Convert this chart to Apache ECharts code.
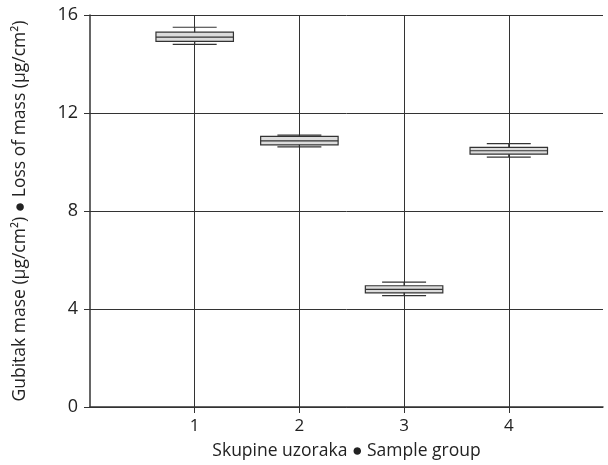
<!DOCTYPE html>
<html><head><meta charset="utf-8">
<script src="https://cdn.jsdelivr.net/npm/echarts@6/dist/echarts.min.js"></script>
<style>html,body{margin:0;padding:0;background:#fff}#c{width:608px;height:465px}</style>
</head><body><div id="c"></div>
<script>
const groups = [1, 2, 3, 4];
const whiskerLow = [14.8, 10.62, 4.55, 10.2];
const q1 = [14.92, 10.7, 4.66, 10.32];
const median = [15.1, 10.86, 4.8, 10.46];
const q3 = [15.3, 11.05, 4.95, 10.6];
const whiskerHigh = [15.5, 11.1, 5.1, 10.75];
const yTicks = [0, 4, 8, 12, 16];

const data = groups.map((g, i) => [g, whiskerLow[i], q1[i], median[i], q3[i], whiskerHigh[i]]);
const chart = echarts.init(document.getElementById('c'));
const dark = '#333';
chart.setOption({
  animation: false,
  grid: {left: 90, right: 5, top: 15, bottom: 58},
  xAxis: {
    type: 'value', min: 0, max: 4.9, interval: 1,
    name: 'Skupine uzoraka \u25cf Sample group', nameLocation: 'middle', nameGap: 35,
    nameTextStyle: {fontFamily: 'Open Sans', fontSize: 17.5, color: '#222'},
    axisLine: {lineStyle: {color: dark, width: 1.5}},
    axisTick: {show: true, length: 6, lineStyle: {color: dark}, customValues: groups},
    axisLabel: {fontFamily: 'Open Sans', fontSize: 17, color: '#222', margin: 11,
      customValues: groups, formatter: v => String(v)},
    splitLine: {show: true, lineStyle: {color: dark, width: 1}}
  },
  yAxis: {
    type: 'value', min: 0, max: 16, interval: 4,
    name: 'Gubitak mase (\u03bcg/cm\u00b2) \u25cf Loss of mass (\u03bcg/cm\u00b2)', nameLocation: 'middle', nameGap: 61,
    nameTextStyle: {fontFamily: 'Open Sans', fontSize: 17.5, color: '#222'},
    axisLine: {show: true, lineStyle: {color: dark, width: 1.5}},
    axisTick: {show: true, length: 6, lineStyle: {color: dark}},
    axisLabel: {fontFamily: 'Open Sans', fontSize: 18, color: '#222', margin: 12,
      customValues: yTicks},
    splitLine: {show: true, lineStyle: {color: dark, width: 1}}
  },
  series: [{
    type: 'custom',
    data: data,
    encode: {x: 0, y: [1, 2, 3, 4, 5]},
    renderItem: function (params, api) {
      const x = api.value(0);
      const pLow = api.coord([x, api.value(1)]);
      const pQ1 = api.coord([x, api.value(2)]);
      const pMed = api.coord([x, api.value(3)]);
      const pQ3 = api.coord([x, api.value(4)]);
      const pHigh = api.coord([x, api.value(5)]);
      const half = api.size([1, 0])[0] * 0.37;
      const cap = api.size([1, 0])[0] * 0.21;
      const cx = pMed[0];
      const ls = {stroke: dark, lineWidth: 1.2};
      return {type: 'group', children: [
        {type: 'line', shape: {x1: cx, y1: pHigh[1], x2: cx, y2: pLow[1]}, style: ls},
        {type: 'line', shape: {x1: cx - cap, y1: pHigh[1], x2: cx + cap, y2: pHigh[1]}, style: ls},
        {type: 'line', shape: {x1: cx - cap, y1: pLow[1], x2: cx + cap, y2: pLow[1]}, style: ls},
        {type: 'rect', shape: {x: cx - half, y: pQ3[1], width: 2 * half, height: pQ1[1] - pQ3[1]},
          style: {fill: '#dcdcdc', stroke: dark, lineWidth: 1.2}},
        {type: 'line', shape: {x1: cx - half, y1: pMed[1], x2: cx + half, y2: pMed[1]}, style: ls}
      ]};
    }
  }]
});
</script></body></html>
